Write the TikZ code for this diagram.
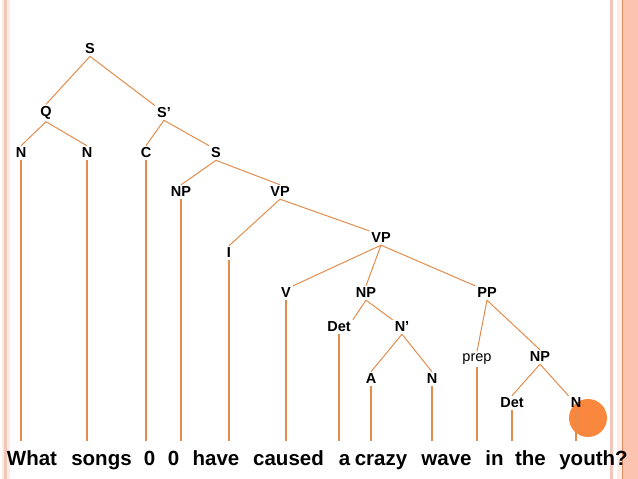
\documentclass[tikz,border=0pt]{standalone}
\usepackage{fontspec}
\setmainfont{Liberation Sans}
\definecolor{linecol}{RGB}{226,140,76}
\definecolor{dotcol}{RGB}{249,136,62}
\definecolor{palecol}{RGB}{252,236,228}
\definecolor{pinkcol}{RGB}{242,198,184}
\definecolor{salmoncol}{RGB}{252,196,176}
\definecolor{edgecol}{RGB}{230,140,100}
\begin{document}
\begin{tikzpicture}[line join=bevel,
  cat/.style={inner sep=2bp,font=\fontsize{14.5bp}{17bp}\selectfont\bfseries},
  lex/.style={inner sep=2bp,font=\fontsize{14.5bp}{17bp}\selectfont},
  word/.style={anchor=base,inner sep=0bp,text height=15bp,font=\fontsize{20.5bp}{24bp}\selectfont\bfseries},
  branch/.style={draw=linecol,line width=1bp},
  leaf/.style={draw=linecol,line width=1.1bp,shorten >=9bp}]
%%
\useasboundingbox (0bp,0bp) rectangle (638bp,479bp);
% page frame
\fill [palecol] (2bp,0bp) rectangle (10bp,479bp);
\fill [pinkcol] (4bp,0bp) rectangle (7bp,479bp);
\fill [pinkcol] (610bp,0bp) rectangle (612.5bp,479bp);
\fill [palecol] (616.5bp,0bp) rectangle (622bp,479bp);
\fill [salmoncol] (623bp,0bp) rectangle (638bp,479bp);
\draw [edgecol,line width=1bp] (622.5bp,0bp) -- (622.5bp,479bp);
\fill [dotcol] (588bp,61bp) circle (19bp);
%%
  \node (S0) at (90bp,430bp) [cat] {S};
  \node (Q) at (46bp,366bp) [cat] {Q};
  \node (Sp) at (164bp,366bp) [cat] {S’};
  \node (N1) at (21bp,326bp) [cat] {N};
  \node (N2) at (87bp,326bp) [cat] {N};
  \node (C) at (146bp,326bp) [cat] {C};
  \node (S1) at (216bp,326bp) [cat] {S};
  \node (NP1) at (181bp,287bp) [cat] {NP};
  \node (VP1) at (280bp,287bp) [cat] {VP};
  \node (I) at (229bp,226bp) [cat] {I};
  \node (VP2) at (381bp,241bp) [cat] {VP};
  \node (V) at (286bp,186bp) [cat] {V};
  \node (NP2) at (366bp,186bp) [cat] {NP};
  \node (PP) at (487bp,186bp) [cat] {PP};
  \node (Det1) at (339bp,152bp) [cat] {Det};
  \node (Np) at (402bp,152bp) [cat] {N’};
  \node (prep) at (477bp,120bp) [lex] {prep};
  \node (NP3) at (540bp,122bp) [cat] {NP};
  \node (A) at (371bp,100bp) [cat] {A};
  \node (N3) at (432bp,100bp) [cat] {N};
  \node (Det2) at (512bp,76bp) [cat] {Det};
  \node (N4) at (576bp,76bp) [cat] {N};
%
  \node (wWhat) at (32bp,14bp) [word] {What};
  \node (wSongs) at (101.5bp,14bp) [word] {songs};
  \node (wZeroA) at (149.5bp,14bp) [word] {0};
  \node (wZeroB) at (173.5bp,14bp) [word] {0};
  \node (wHave) at (216bp,14bp) [word] {have};
  \node (wCaused) at (288.5bp,14bp) [word] {caused};
  \node (wA) at (344.5bp,14bp) [word] {a};
  \node (wCrazy) at (381bp,14bp) [word] {crazy};
  \node (wWave) at (446.5bp,14bp) [word] {wave};
  \node (wIn) at (494.5bp,14bp) [word] {in};
  \node (wThe) at (530.5bp,14bp) [word] {the};
  \node (wYouth) at (593.5bp,14bp) [word] {youth?};
%%
  \draw [branch] (S0.south) -- (Q.north);
  \draw [branch] (S0.south) -- (Sp.north west);
  \draw [branch] (Q.south) -- (N1.north);
  \draw [branch] (Q.south) -- (N2.north);
  \draw [branch] (Sp.south) -- (C.north);
  \draw [branch] (Sp.south) -- (S1.north west);
  \draw [branch] (S1.south) -- (NP1.north);
  \draw [branch] (S1.south) -- (VP1.north);
  \draw [branch] (VP1.south) -- (I.north);
  \draw [branch] (VP1.south) -- (VP2.north west);
  \draw [branch] (VP2.south) -- (V.north east);
  \draw [branch] (VP2.south) -- (NP2.north);
  \draw [branch] (VP2.south) -- (PP.north west);
  \draw [branch] (NP2.south) -- (Det1.north east);
  \draw [branch] (NP2.south) -- (Np.north west);
  \draw [branch] (Np.south) -- (A.north);
  \draw [branch] (Np.south) -- (N3.north);
  \draw [branch] (PP.south) -- (prep.north);
  \draw [branch] (PP.south) -- (NP3.north);
  \draw [branch] (NP3.south) -- (Det2.north);
  \draw [branch] (NP3.south) -- (N4.north west);
%
  \draw [leaf] (N1.south) -- (N1.south |- wWhat.north);
  \draw [leaf] (N2.south) -- (N2.south |- wSongs.north);
  \draw [leaf] (C.south) -- (C.south |- wZeroA.north);
  \draw [leaf] (NP1.south) -- (NP1.south |- wZeroB.north);
  \draw [leaf] (I.south) -- (I.south |- wHave.north);
  \draw [leaf] (V.south) -- (V.south |- wCaused.north);
  \draw [leaf] (Det1.south) -- (Det1.south |- wA.north);
  \draw [leaf] (A.south) -- (A.south |- wCrazy.north);
  \draw [leaf] (N3.south) -- (N3.south |- wWave.north);
  \draw [leaf] (prep.south) -- (prep.south |- wIn.north);
  \draw [leaf] (Det2.south) -- (Det2.south |- wThe.north);
  \draw [leaf] (N4.south) -- (N4.south |- wYouth.north);
%
\end{tikzpicture}
\end{document}
